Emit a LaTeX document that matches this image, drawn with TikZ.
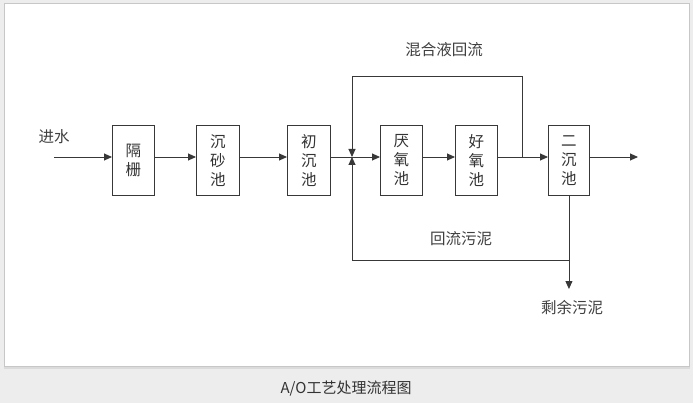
\documentclass[tikz,border=0pt]{standalone}
\usepackage{fontspec}
\newfontfamily\cjk{Noto Sans CJK SC}[Scale=1]
\usetikzlibrary{arrows.meta}
\begin{document}
\begin{tikzpicture}[x=1pt,y=-1pt,
  box/.style={draw=black!78, line width=0.9pt, minimum width=42pt, minimum height=70pt,
    inner sep=0pt, font=\cjk\fontsize{15.5}{19}\selectfont, align=center, anchor=north west, text=black!80},
  link/.style={draw=black!78, line width=0.9pt},
  flow/.style={link, -{Triangle[length=8pt,width=7pt]}},
  lbl/.style={font=\cjk\fontsize{15.5}{18}\selectfont, text=black!75, inner sep=0pt}]
\useasboundingbox (0,0) rectangle (693,403);
\fill[black!7] (0,0) rectangle (693,403);
\fill[black!14] (4,4) rectangle (690,369);
\fill[white, draw=black!22, line width=0.6pt] (4,3) rectangle (689,366.5);

\node[box] (b1) at (112,125) {隔\\栅};
\node[box, minimum width=43pt] (b2) at (196,125) {沉\\砂\\池};
\node[box, minimum width=43pt] (b3) at (287,125) {初\\沉\\池};
\node[box] (b4) at (380,125) {厌\\氧\\池};
\node[box] (b5) at (455,125) {好\\氧\\池};
\node[box, minimum width=41pt] (b6) at (548,125) {二\\沉\\池};

\coordinate (in) at (54,157);
\coordinate (out) at (638,157);
\coordinate (J) at (352,157);
\coordinate (T) at (522,157);
\coordinate (TL) at (352,76);
\coordinate (TR) at (522,76);
\coordinate (BR) at (b6.south |- 0,260);
\coordinate (BL) at (352,260);
\coordinate (S) at (b6.south |- 0,289);

\node[lbl] (l0) at (54,137) {进水};
\node[lbl] (l1) at (444,50) {混合液回流};
\node[lbl] (l2) at (461,239) {回流污泥};
\node[lbl] (l3) at (572,308) {剩余污泥};

\draw[flow] (in) -- (b1.west |- in);
\draw[flow] (b1.east |- in) -- (b2.west |- in);
\draw[flow] (b2.east |- in) -- (b3.west |- in);
\draw[flow] (b3.east |- in) -- (b4.west |- in);
\draw[flow] (b4.east |- in) -- (b5.west |- in);
\draw[flow] (b5.east |- in) -- (b6.west |- in);
\draw[flow] (b6.east |- in) -- (out);

\draw[flow] (T) -- (TR) -- (TL) -- (J);
\draw[flow] (b6.south) -- (S);
\draw[flow] (BR) -- (BL) -- (J);

\node[font=\cjk\fontsize{15}{17}\selectfont, text=black!80] (cap) at (346,389) {A/O工艺处理流程图};
\end{tikzpicture}
\end{document}
